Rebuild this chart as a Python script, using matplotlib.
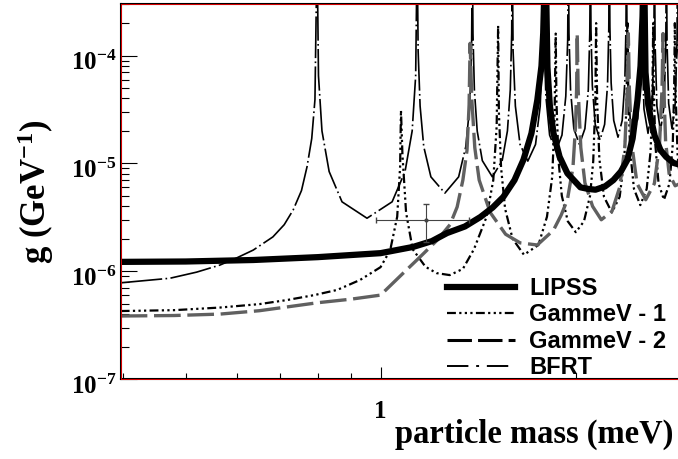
import matplotlib
matplotlib.use('Agg')
from matplotlib import pyplot as plt
from matplotlib import transforms
from matplotlib.lines import Line2D
from matplotlib.patches import Rectangle
from matplotlib.ticker import FixedLocator, NullFormatter

plt.rcParams['font.family'] = 'Liberation Serif'
plt.rcParams['mathtext.fontset'] = 'custom'
plt.rcParams['mathtext.rm'] = 'Liberation Serif:bold'
plt.rcParams['mathtext.bf'] = 'Liberation Serif:bold'
plt.rcParams['mathtext.default'] = 'bf'

# LIPSS (thick solid)
lipss_mass = [0.397, 0.5, 0.636, 0.8, 1.0, 1.123, 1.2, 1.267, 1.35, 1.426, 1.49, 1.547, 1.61,
              1.662, 1.71, 1.746, 1.772, 1.783, 1.797,
              1.810, 1.825, 1.849, 1.89, 1.943, 2.035, 2.09, 2.147, 2.22, 2.288, 2.35, 2.405,
              2.45, 2.493, 2.52, 2.538, 2.55,
              2.565, 2.59, 2.611, 2.65, 2.705, 2.76, 2.833, 2.90]
lipss_g = [1.22e-6, 1.23e-6, 1.27e-6, 1.35e-6, 1.47e-6, 1.68e-6, 1.9e-6, 2.26e-6, 2.6e-6, 3.18e-6, 3.9e-6, 4.88e-6, 7e-6,
           1.08e-5, 1.9e-5, 3.87e-5, 8e-5, 1.62e-4, 1e-3,
           7.8e-5, 3.5e-5, 1.91e-5, 1.15e-5, 8.1e-6, 6.0e-6, 5.8e-6, 5.7e-6, 6.1e-6, 7.0e-6, 8.4e-6, 1.08e-5,
           1.7e-5, 3.87e-5, 8e-5, 2.3e-4, 1e-3,
           7e-5, 3.5e-5, 2.7e-5, 1.8e-5, 1.33e-5, 1.15e-5, 1.01e-5, 9.7e-6]

# GammeV - 1 (dash dot dot), spikes are cut off in the source
gv1_mass = [0.397, 0.48, 0.565, 0.65, 0.717, 0.79, 0.857, 0.93, 1.0, 1.035, 1.061, 1.072, 1.0753,
            1.081, 1.095, 1.121, 1.173, 1.22, 1.279, 1.34, 1.394, 1.458, 1.493, 1.511, 1.519,
            1.523, 1.535, 1.557, 1.599, 1.665, 1.753, 1.807, 1.841, 1.856, 1.864,
            1.869, 1.883, 1.905, 1.946, 2.002, 2.061, 2.106, 2.130, 2.146, 2.152,
            2.160, 2.177, 2.213, 2.276, 2.340, 2.379, 2.398, 2.406,
            2.413, 2.429, 2.462, 2.518, 2.576, 2.612, 2.629, 2.636,
            2.642, 2.656, 2.687, 2.739, 2.793, 2.826, 2.840, 2.847,
            2.853, 2.875, 2.90]
gv1_g = [4.27e-7, 4.35e-7, 4.6e-7, 4.95e-7, 5.4e-7, 6.0e-7, 6.7e-7, 8.3e-7, 1.09e-6, 1.57e-6, 3.2e-6, 9.3e-6, 3.1e-5,
         1.2e-5, 3.5e-6, 1.6e-6, 1.1e-6, 9.6e-7, 9.2e-7, 1.05e-6, 1.6e-6, 3.2e-6, 7e-6, 2.2e-5, 1.9e-4,
         3.0e-5, 9.1e-6, 3.8e-6, 2.0e-6, 1.42e-6, 1.75e-6, 3.2e-6, 7.5e-6, 2.5e-5, 1.6e-4,
         3.7e-5, 1.05e-5, 5.0e-6, 2.9e-6, 2.3e-6, 2.9e-6, 5.0e-6, 1.05e-5, 3.7e-5, 2e-4,
         3.7e-5, 1.1e-5, 4.9e-6, 3.5e-6, 4.9e-6, 1.1e-5, 3.7e-5, 2e-4,
         4.3e-5, 1.3e-5, 5.8e-6, 4.1e-6, 5.8e-6, 1.3e-5, 4.3e-5, 2e-4,
         4.9e-5, 1.5e-5, 6.5e-6, 4.6e-6, 6.5e-6, 1.5e-5, 4.9e-5, 2e-4,
         5e-5, 1.2e-5, 7e-6]

# GammeV - 2 (grey long dash)
gv2_mass = [0.397, 0.48, 0.565, 0.65, 0.717, 0.80, 0.90, 1.0, 1.084, 1.15, 1.223, 1.28, 1.313, 1.34,
            1.360, 1.37, 1.375,
            1.383, 1.398, 1.42, 1.477, 1.56, 1.643, 1.746, 1.849, 1.90, 1.943, 1.982, 2.000, 2.008, 2.012,
            2.019, 2.038, 2.068, 2.125, 2.192, 2.277, 2.340, 2.383, 2.404, 2.413,
            2.422, 2.443, 2.489, 2.567, 2.647, 2.696, 2.720, 2.73,
            2.738, 2.755, 2.79, 2.85, 2.90]
gv2_g = [3.84e-7, 3.88e-7, 4.0e-7, 4.3e-7, 4.66e-7, 5.1e-7, 5.5e-7, 6.0e-7, 9.6e-7, 1.35e-6, 1.94e-6, 2.7e-6, 3.94e-6, 7e-6,
         1.33e-5, 3.5e-5, 1.3e-4,
         4e-5, 1.4e-5, 7e-6, 3.5e-6, 2.2e-6, 1.83e-6, 1.75e-6, 2.4e-6, 3.3e-6, 4.6e-6, 9.2e-6, 2.2e-5, 5e-5, 1.6e-4,
         4.8e-5, 1.4e-5, 6.6e-6, 4.0e-6, 3.0e-6, 3.6e-6, 6.0e-6, 1.4e-5, 4.8e-5, 1.6e-4,
         4.9e-5, 1.5e-5, 6.5e-6, 4.6e-6, 6.5e-6, 1.5e-5, 4.9e-5, 1.6e-4,
         5e-5, 1.6e-5, 8e-6, 6.2e-6, 6.5e-6]

# BFRT (long dash - dot)
bfrt_mass = [0.397, 0.473, 0.52, 0.565, 0.60, 0.636, 0.682, 0.71, 0.733, 0.755, 0.770, 0.783, 0.792, 0.798,
             0.802, 0.812, 0.833, 0.872, 0.953, 1.042, 1.091, 1.119, 1.133, 1.139,
             1.143, 1.151, 1.166, 1.196, 1.257, 1.320, 1.354, 1.373, 1.382, 1.386,
             1.389, 1.396, 1.410, 1.436, 1.488, 1.541, 1.570, 1.586, 1.594, 1.597,
             1.602, 1.615, 1.642, 1.688, 1.735, 1.764, 1.778, 1.784,
             1.789, 1.800, 1.824, 1.865, 1.906, 1.932, 1.945, 1.950,
             1.954, 1.965, 1.988, 2.028, 2.068, 2.093, 2.104, 2.109,
             2.113, 2.123, 2.145, 2.182, 2.218, 2.241, 2.251, 2.256,
             2.260, 2.270, 2.291, 2.326, 2.361, 2.383, 2.393, 2.397,
             2.401, 2.410, 2.429, 2.461, 2.495, 2.514, 2.524, 2.528,
             2.534, 2.551, 2.588, 2.624, 2.642, 2.648,
             2.654, 2.671, 2.705, 2.740, 2.757, 2.763,
             2.769, 2.785, 2.818, 2.851, 2.869, 2.874, 2.880, 2.90]
bfrt_g = [7.8e-7, 8.6e-7, 9.8e-7, 1.14e-6, 1.33e-6, 1.57e-6, 2.08e-6, 2.7e-6, 3.7e-6, 5.6e-6, 9.3e-6, 1.7e-5, 3.9e-5, 1e-3,
          6.5e-5, 2.0e-5, 8.4e-6, 4.4e-6, 3.1e-6, 4.4e-6, 8.4e-6, 2.0e-5, 6.5e-5, 1e-3,
          1.1e-4, 3.4e-5, 1.43e-5, 7.5e-6, 5.3e-6, 7.5e-6, 1.43e-5, 3.4e-5, 1.1e-4, 1e-3,
          1.6e-4, 4.8e-5, 2.0e-5, 1.06e-5, 7.5e-6, 1.06e-5, 2.0e-5, 4.8e-5, 1.6e-4, 1e-3,
          1.1e-4, 3.4e-5, 1.5e-5, 1.05e-5, 1.5e-5, 3.4e-5, 1.1e-4, 1e-3,
          1.38e-4, 4.2e-5, 1.83e-5, 1.3e-5, 1.83e-5, 4.2e-5, 1.38e-4, 1e-3,
          1.6e-4, 4.8e-5, 2.1e-5, 1.5e-5, 2.1e-5, 4.8e-5, 1.6e-4, 1e-3,
          1.75e-4, 5.3e-5, 2.3e-5, 1.65e-5, 2.3e-5, 5.3e-5, 1.75e-4, 1e-3,
          1.85e-4, 5.6e-5, 2.5e-5, 1.75e-5, 2.5e-5, 5.6e-5, 1.85e-4, 1e-3,
          2e-4, 5.9e-5, 2.6e-5, 1.85e-5, 2.6e-5, 5.9e-5, 2e-4, 1e-3,
          1.2e-4, 3.2e-5, 1.9e-5, 3.2e-5, 1.2e-4, 1e-3,
          1.28e-4, 3.4e-5, 2.0e-5, 3.4e-5, 1.28e-4, 1e-3,
          1.35e-4, 3.6e-5, 2.1e-5, 3.6e-5, 1.35e-4, 1e-3, 1.35e-4, 4e-5]

# single measured point with error bars
pt_mass = 1.177
pt_g = 2.98e-6
pt_mass_err = [[1.177 - 0.984], [1.371 - 1.177]]
pt_g_err = [[2.98e-6 - 1.87e-6], [4.2e-6 - 2.98e-6]]

labels = ['LIPSS', 'GammeV - 1', 'GammeV - 2', 'BFRT']
ytick_vals = [1e-7, 1e-6, 1e-5, 1e-4]
ytick_labels = ['$10^{-7}$', '$10^{-6}$', '$10^{-5}$', '$10^{-4}$']

gv1_dash = (4, 1.5, 1, 1.5, 1, 1.5, 1, 1.5)
gv2_dash = (8, 2)
bfrt_dash = (25, 2, 1, 2)

fig = plt.figure(figsize=(6.78, 4.59), dpi=100)
ax = fig.add_axes([0.178, 0.1743, 0.825, 0.817])

ax.plot(bfrt_mass, bfrt_g, color='black', lw=1.2, dashes=bfrt_dash)
ax.plot(gv1_mass, gv1_g, color='black', lw=1.6, dashes=gv1_dash)
ax.plot(gv2_mass, gv2_g, color='#606060', lw=2.4, dashes=gv2_dash)
ax.plot(lipss_mass, lipss_g, color='black', lw=4.5, solid_capstyle='butt')
ax.errorbar(pt_mass, pt_g, xerr=pt_mass_err, yerr=pt_g_err, fmt='o', ms=2,
            color='#444444', lw=0.8, capsize=2)

ax.set_xscale('log')
ax.set_yscale('log')
ax.set_xlim(0.397, 2.90)
ax.set_ylim(1e-7, 3.01e-4)

ax.xaxis.set_major_locator(FixedLocator([1.0]))
ax.xaxis.set_minor_locator(FixedLocator([0.4, 0.5, 0.6, 0.7, 0.8, 0.9, 2.0]))
ax.xaxis.set_minor_formatter(NullFormatter())
ax.set_xticklabels(['1'], fontsize=18, fontweight='bold')
ax.set_yticks(ytick_vals)
ax.set_yticklabels(ytick_labels, fontsize=18)
ax.yaxis.set_minor_locator(FixedLocator([k * 10.0**e for e in range(-7, -3) for k in range(2, 10)]))
ax.yaxis.set_minor_formatter(NullFormatter())

ax.tick_params(axis='y', which='major', direction='in', length=11.5, width=0.8, pad=3)
ax.tick_params(axis='y', which='minor', direction='in', length=5.8, width=0.8)
ax.tick_params(axis='x', which='major', direction='in', length=8.5, width=0.8, pad=15)
ax.tick_params(axis='x', which='minor', direction='in', length=4.5, width=0.8)
ax.tick_params(top=False, right=False, which='both')

# ROOT puts the labels a little below the tick
shift = transforms.ScaledTranslation(0, -0.05, fig.dpi_scale_trans)
for lab in ax.get_yticklabels():
    lab.set_transform(lab.get_transform() + shift)

for s in ax.spines.values():
    s.set_linewidth(1.5)
    s.set_color('black')
ax.add_patch(Rectangle((0, 0), 1, 1, transform=ax.transAxes, fill=False,
                       ec='red', lw=0.6, clip_on=False, zorder=5))

ax.set_ylabel('g (GeV$^{-1}$)', fontsize=25, fontweight='bold')
ax.yaxis.set_label_coords(-0.116, 0.5)
ax.set_xlabel('particle mass (meV)', fontsize=23.5, fontweight='bold', ha='left')
ax.xaxis.set_label_coords(0.4904, -0.105)

handles = [Line2D([], [], color='black', lw=4.5),
           Line2D([], [], color='black', lw=1.6, dashes=gv1_dash),
           Line2D([], [], color='black', lw=2.2, dashes=gv2_dash),
           Line2D([], [], color='black', lw=1.4, dashes=(11, 4, 1.5, 4))]
fig.legend(handles, labels, loc='upper left', bbox_to_anchor=(435 / 678, 1 - 265 / 459),
           frameon=False, borderpad=0, handlelength=2.9, handletextpad=0.6,
           labelspacing=0.15, prop={'family': 'Liberation Sans', 'weight': 'bold', 'size': 17})

fig.savefig('out.png', dpi=100)
